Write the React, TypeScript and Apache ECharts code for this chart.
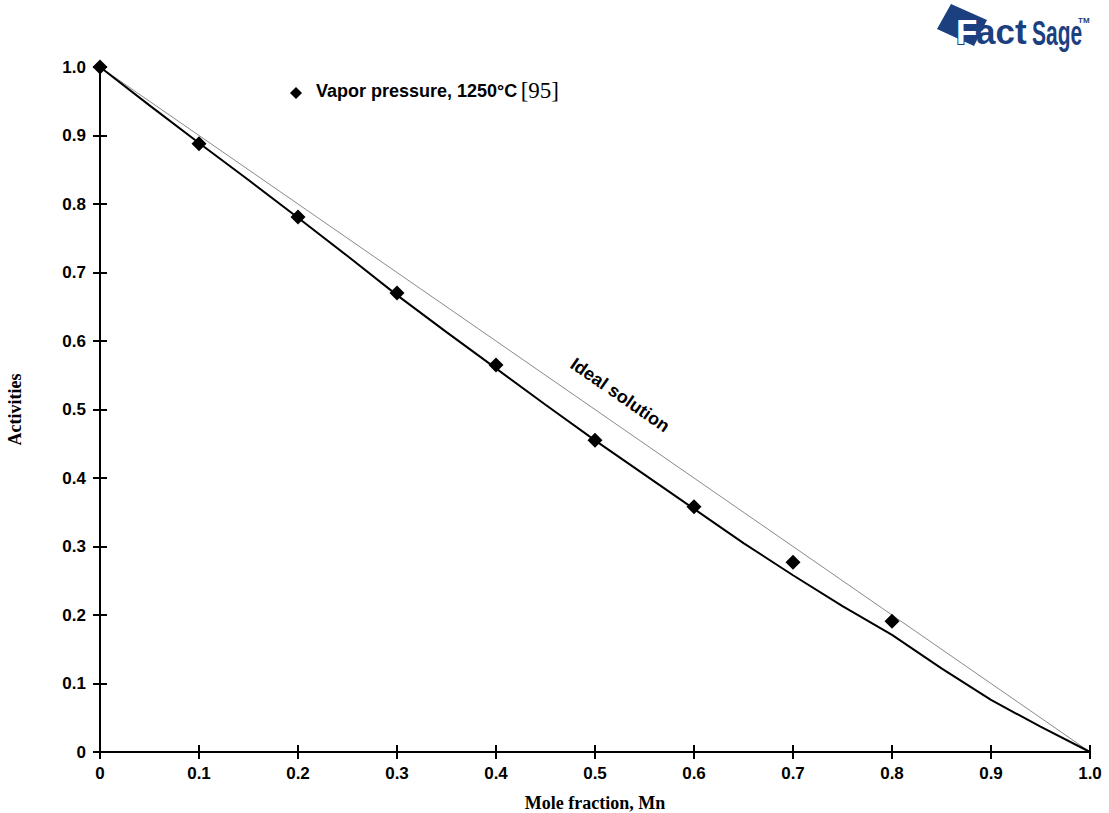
import React, { useEffect, useRef } from "react";
import * as echarts from "echarts";

const expX = [0, 0.1, 0.2, 0.3, 0.4, 0.5, 0.6, 0.7, 0.8];
const expY = [1.0, 0.888, 0.781, 0.67, 0.565, 0.455, 0.358, 0.277, 0.191];

const calcX = [0, 0.05, 0.1, 0.15, 0.2, 0.25, 0.3, 0.35, 0.4, 0.45, 0.5, 0.55, 0.6, 0.65, 0.7, 0.75, 0.8, 0.85, 0.9, 0.95, 1.0];
const calcY = [1.0, 0.944, 0.889, 0.835, 0.78, 0.724, 0.667, 0.613, 0.56, 0.507, 0.455, 0.405, 0.355, 0.305, 0.258, 0.213, 0.171, 0.122, 0.076, 0.037, 0];

const idealX = [0, 1];
const idealY = [1, 0];

const xTicks = ["0", "0.1", "0.2", "0.3", "0.4", "0.5", "0.6", "0.7", "0.8", "0.9", "1.0"];
const yTicks = ["0", "0.1", "0.2", "0.3", "0.4", "0.5", "0.6", "0.7", "0.8", "0.9", "1.0"];

const SANS = "'Liberation Sans', Arial, sans-serif";
const SERIF = "'Liberation Serif', 'Times New Roman', serif";
const BLUE = "#1c3f80";

export default function App() {
  const ref = useRef<HTMLDivElement>(null);
  useEffect(() => {
    if (!ref.current) return;
    const chart = echarts.init(ref.current, null, { renderer: "svg" });
    const axisLine = { show: true, lineStyle: { color: "#000", width: 2 } };
    const tick = { show: true, inside: true, length: 7, lineStyle: { color: "#000", width: 2 } };
    const tickFmt = (v: number) => {
      const i = Math.round(v * 10);
      return i >= 0 && i <= 10 ? xTicks[i] : "";
    };
    const tickFmtY = (v: number) => {
      const i = Math.round(v * 10);
      return i >= 0 && i <= 10 ? yTicks[i] : "";
    };
    chart.setOption({
      animation: false,
      backgroundColor: "#fff",
      grid: { left: 100, right: 19, top: 67, bottom: 61, containLabel: false, outerBoundsMode: "none" },
      xAxis: [
        {
          type: "value", min: 0, max: 1, interval: 0.1, position: "bottom",
          axisLine, splitLine: { show: false }, axisTick: tick,
          axisLabel: { color: "#000", fontFamily: SANS, fontWeight: "bold", fontSize: 17, margin: 13, formatter: tickFmt },
          name: "Mole fraction, Mn", nameLocation: "middle", nameGap: 42,
          nameTextStyle: { color: "#000", fontFamily: SERIF, fontWeight: "bold", fontSize: 18 },
        },
        {
          type: "value", min: 0, max: 1, interval: 0.1, position: "top",
          axisLine, splitLine: { show: false }, axisTick: tick, axisLabel: { show: false },
        },
      ],
      yAxis: [
        {
          type: "value", min: 0, max: 1, interval: 0.1, position: "left",
          axisLine, splitLine: { show: false }, axisTick: tick,
          axisLabel: { color: "#000", fontFamily: SANS, fontWeight: "bold", fontSize: 17, margin: 14, formatter: tickFmtY },
          name: "Activities", nameLocation: "middle", nameGap: 76, nameRotate: 90,
          nameTextStyle: { color: "#000", fontFamily: SERIF, fontWeight: "bold", fontSize: 18 },
        },
        {
          type: "value", min: 0, max: 1, interval: 0.1, position: "right",
          axisLine, splitLine: { show: false }, axisTick: tick, axisLabel: { show: false },
        },
      ],
      series: [
        {
          type: "line", name: "Ideal", data: idealX.map((x, i) => [x, idealY[i]]),
          showSymbol: false, symbol: "none", lineStyle: { color: "#8a8a8a", width: 1 }, silent: true, z: 2,
        },
        {
          type: "line", name: "Calc", data: calcX.map((x, i) => [x, calcY[i]]),
          showSymbol: false, symbol: "none", lineStyle: { color: "#000", width: 2 }, silent: true, z: 3,
        },
        {
          type: "scatter", name: "Vapor pressure, 1250°C", data: expX.map((x, i) => [x, expY[i]]),
          symbol: "diamond", symbolSize: 15, itemStyle: { color: "#000", opacity: 1 }, z: 4, clip: false,
        },
      ],
      graphic: [
        { type: "polygon", shape: { points: [[302, 93], [296, 99], [290, 93], [296, 87]] }, style: { fill: "#000" } },
        {
          type: "text", left: 316, top: 79,
          style: {
            text: "{a|Vapor pressure, 1250°C} {b|[95]}",
            rich: {
              a: { fontFamily: SANS, fontWeight: "bold", fontSize: 18, fill: "#000" },
              b: { fontFamily: SERIF, fontSize: 23, fill: "#000" },
            },
          },
        },
        {
          type: "text", x: 620, y: 395, rotation: -0.605,
          style: { text: "Ideal solution", fontFamily: SANS, fontWeight: "bold", fontSize: 18, fill: "#000", align: "center", verticalAlign: "middle" },
        },
        // FactSage logo
        { type: "polygon", shape: { points: [[951, 4], [987, 20], [974, 46], [937, 29]] }, style: { fill: BLUE } },
        {
          type: "text", x: 956, y: 31,
          style: { text: "F", fontFamily: SANS, fontWeight: 900, fontSize: 35, fill: "#fff", stroke: BLUE, lineWidth: 2, verticalAlign: "middle" },
        },
        {
          type: "text", x: 976, y: 31,
          style: { text: "act", fontFamily: SANS, fontWeight: 900, fontSize: 35, fill: BLUE, verticalAlign: "middle" },
        },
        {
          type: "text", x: 1032, y: 33, scaleX: 0.6,
          style: { text: "Sage", fontFamily: SANS, fontWeight: "bold", fontSize: 35, fill: BLUE, verticalAlign: "middle" },
        },
        {
          type: "text", x: 1078, y: 16,
          style: { text: "TM", fontFamily: SANS, fontWeight: "bold", fontSize: 8, fill: BLUE },
        },
      ],
    });
    return () => chart.dispose();
  }, []);
  return <div ref={ref} style={{ width: 1109, height: 813, position: "absolute", left: 0, top: 0 }} />;
}
